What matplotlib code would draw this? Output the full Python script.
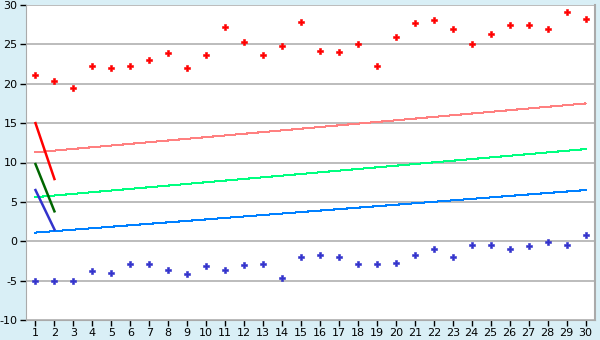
import numpy as np
import matplotlib
matplotlib.use('Agg')
import matplotlib.pyplot as plt

# datos
dias = list(range(1, 31))
rojos = [21.1, 20.3, 19.4, 22.2, 22.0, 22.2, 23.0, 23.9, 22.0, 23.6,
         27.2, 25.3, 23.7, 24.8, 27.8, 24.1, 24.0, 25.0, 22.2, 26.0,
         27.7, 28.1, 26.9, 25.0, 26.3, 27.5, 27.5, 26.9, 29.1, 28.2]
azules = [-5.0, -5.0, -5.0, -3.8, -4.0, -2.9, -2.9, -3.6, -4.1, -3.2,
          -3.7, -3.0, -2.9, -4.7, -2.0, -1.8, -2.0, -2.9, -2.9, -2.8,
          -1.7, -1.0, -2.0, -0.5, -0.5, -1.0, -0.6, -0.1, -0.5, 0.8]

# lineas de tendencia (inicio, fin)
tend_x = [1, 30]
tend_roja = [11.3, 17.5]
tend_verde = [5.6, 11.7]
tend_azul = [1.1, 6.5]

# lineas cortas gruesas
corta_x = [1, 2]
corta_roja = [15.0, 7.9]
corta_verde = [9.8, 3.8]
corta_azul = [6.5, 1.5]

fondo = '#D9EFF6'
gris = '#AAAAAA'
plt.rcParams['axes.unicode_minus'] = False

fig = plt.figure(figsize=(6, 3.4), dpi=100, facecolor=fondo)
ax = fig.add_axes([26/600, 20/340, 569/600, 315/340])
ax.set_facecolor('white')

ax.plot(tend_x, tend_roja, color='#FF8080', lw=0.75, antialiased=False, zorder=3)
ax.plot(tend_x, tend_verde, color='#00FF80', lw=0.75, antialiased=False, zorder=3)
ax.plot(tend_x, tend_azul, color='#0080FF', lw=0.75, antialiased=False, zorder=3)

ax.plot(corta_x, corta_roja, color='#FF0000', lw=1.8, zorder=4)
ax.plot(corta_x, corta_verde, color='#006600', lw=1.8, zorder=4)
ax.plot(corta_x, corta_azul, color='#3333CC', lw=1.8, zorder=4)

ax.plot(dias, rojos, 'P', color='#FF0000', ms=5, mew=0.4, ls='none', zorder=5)
ax.plot(dias, azules, 'P', color='#3333CC', ms=5, mew=0.4, ls='none', zorder=5)

ax.set_xlim(0.5, 30.5)
ax.set_ylim(-10, 30)
ax.set_xticks(dias)
ax.set_yticks(np.arange(-10, 31, 5))
ax.yaxis.grid(True, color=gris, lw=1.1)
ax.set_axisbelow(True)

for lado in ['left', 'bottom']:
    ax.spines[lado].set_color(gris)
ax.spines['top'].set_visible(False)
ax.spines['right'].set_color(gris)
ax.spines['right'].set_linewidth(1.5)

ax.tick_params(axis='both', labelsize=8, colors='black', length=4, width=1, pad=2)

fig.savefig('out.png', dpi=100, facecolor=fondo)
